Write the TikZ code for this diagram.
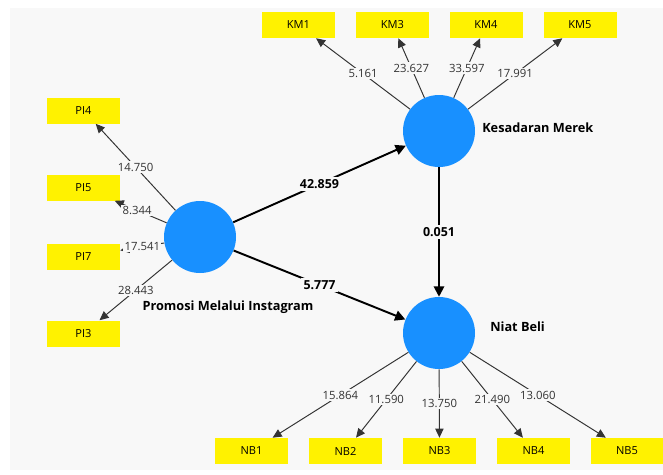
\documentclass[tikz,border=0pt]{standalone}
\usepackage{fontspec}
\setmainfont{Open Sans}
\usepackage{tikz}
\usetikzlibrary{arrows.meta}
\definecolor{bggray}{RGB}{248,248,248}
\definecolor{lvblue}{RGB}{24,144,255}
\tikzset{>={Triangle[width=2.1mm,length=2.3mm]}}
\tikzset{
  latent/.style={shape=circle,fill=lvblue,minimum size=0.72in,inner sep=0pt},
  indik/.style={shape=rectangle,fill=yellow,minimum height=0.26in,minimum width=0.73in,font=\fontsize{8}{9}\selectfont},
  lvname/.style={font=\bfseries\fontsize{9.2}{11}\selectfont,inner sep=0pt},
  ldg/.style={->,draw=black!80,line width=0.7pt},
  coef/.style={-{Triangle[width=2.6mm,length=2.6mm]},draw=black,line width=1.4pt},
  ldgval/.style={fill=bggray,inner sep=1pt,text=black!80,font=\fontsize{8.2}{9}\selectfont},
  coefval/.style={fill=bggray,inner sep=1.5pt,font=\bfseries\fontsize{9}{10}\selectfont}
}

\begin{document}
\begin{tikzpicture}

\useasboundingbox (0in,0in) rectangle (6.63in,-4.75in);
\fill[bggray] (0.10in,-0.08in) rectangle (6.63in,-4.70in);

% latent variables
\path (2.00in,-2.37in) node (pmi) [latent] {};
\path (4.39in,-1.31in) node (km) [latent] {};
\path (4.39in,-3.33in) node (nb) [latent] {};

\path (2.28in,-3.07in) node (pmitxt) [lvname] {Promosi Melalui Instagram};
\path (4.82in,-1.28in) node (kmtxt) [lvname,anchor=west] {Kesadaran Merek};
\path (4.90in,-3.27in) node (nbtxt) [lvname,anchor=west] {Niat Beli};

% indicators
\path (2.985in,-0.25in) node (km1) [indik] {KM1};
\path (3.925in,-0.25in) node (km3) [indik] {KM3};
\path (4.860in,-0.25in) node (km4) [indik] {KM4};
\path (5.800in,-0.25in) node (km5) [indik] {KM5};

\path (0.835in,-1.105in) node (pi4) [indik] {PI4};
\path (0.835in,-1.875in) node (pi5) [indik] {PI5};
\path (0.835in,-2.565in) node (pi7) [indik] {PI7};
\path (0.835in,-3.335in) node (pi3) [indik] {PI3};

\path (2.515in,-4.51in) node (nb1) [indik] {NB1};
\path (3.455in,-4.51in) node (nb2) [indik] {NB2};
\path (4.395in,-4.51in) node (nb3) [indik] {NB3};
\path (5.335in,-4.51in) node (nb4) [indik] {NB4};
\path (6.270in,-4.51in) node (nb5) [indik] {NB5};

% outer loadings
\draw[ldg] (km) -- node[ldgval] {5.161} (km1);
\draw[ldg] (km) -- node[ldgval] {23.627} (km3);
\draw[ldg] (km) -- node[ldgval] {33.597} (km4);
\draw[ldg] (km) -- node[ldgval] {17.991} (km5);

\draw[ldg] (pmi) -- node[ldgval] {14.750} (pi4);
\draw[ldg] (pmi) -- node[ldgval,pos=0.57] {8.344} (pi5);
\draw[ldg] (pmi) -- node[ldgval] {17.541} (pi7);
\draw[ldg] (pmi) -- node[ldgval] {28.443} (pi3);

\draw[ldg] (nb) -- node[ldgval] {15.864} (nb1);
\draw[ldg] (nb) -- node[ldgval] {11.590} (nb2);
\draw[ldg] (nb) -- node[ldgval] {13.750} (nb3);
\draw[ldg] (nb) -- node[ldgval] {21.490} (nb4);
\draw[ldg] (nb) -- node[ldgval] {13.060} (nb5);

% inner model
\draw[coef] (pmi) -- node[coefval] {42.859} (km);
\draw[coef] (pmi) -- node[coefval] {5.777} (nb);
\draw[coef] (km) -- node[coefval] {0.051} (nb);

\end{tikzpicture}
\end{document}
